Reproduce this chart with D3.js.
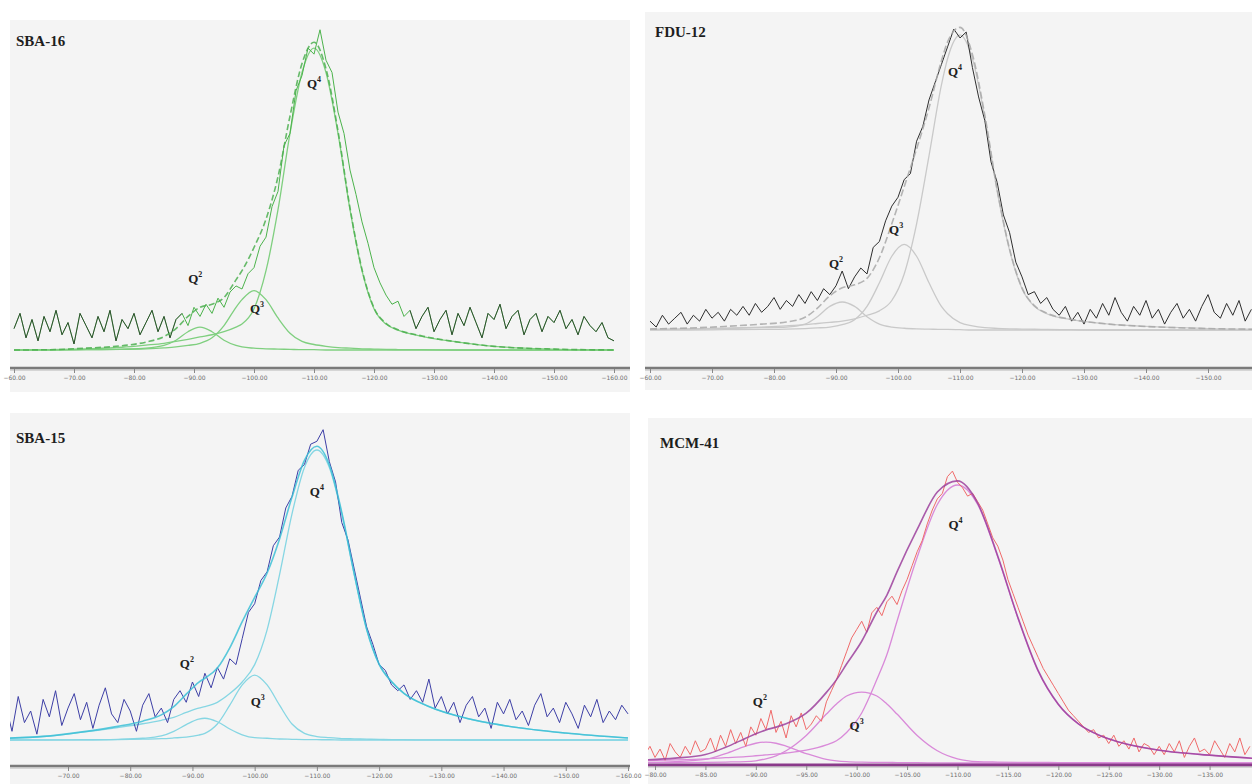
<!DOCTYPE html>
<html><head><meta charset="utf-8">
<script src="https://cdn.jsdelivr.net/npm/d3@7"></script>
<style>body{margin:0;background:#fff;} svg{display:block;}</style>
</head><body>
<svg id="c" width="1252" height="784"></svg>
<script>
// ---------------- DATA ----------------
// Experimental spectra (chemical shift in ppm, intensity relative to Q4 fit peak = 100)
const sba16Start = -60, sba16Step = -1;
const sba16Data = [7,12,4,10,3,11,6,13,5,9,2,12,8,4,11,6,13,3,10,7,12,5,9,13,6,11,4,10,
  12,8,14,11,15,12,17,14,19,21,20,25,27,
  34,37,47,52,67,71,85,90,99,97,
  105,95,91,78,71,59,51,42,35,27,22,18,15,16,11,
  13,7,11,14,6,10,13,5,12,8,14,9,4,12,10,15,7,11,13,5,10,12,6,11,9,13,7,10,5,11,8,6,9,4,3];

const fdu12Start = -60, fdu12Step = -1;
const fdu12Data = [3,1,5,2,4,6,2,5,3,7,4,6,3,7,5,8,
  5,9,6,8,11,7,10,8,12,9,13,10,14,12,
  15,20,14,18,21,19,28,30,37,42,
  45,51,53,64,69,78,84,90,96,102,99,
  101,89,79,71,57,50,39,33,23,18,12,13,9,11,7,
  5,8,3,6,2,7,4,9,5,11,6,3,8,5,10,4,7,2,6,9,4,7,3,8,12,6,4,9,5,10,3,7];

const sba15Start = -60, sba15Step = -1;
const sba15Data = [12,3,15,6,10,2,14,8,17,5,11,16,7,13,4,12,18,9,6,14,10,3,12,16,8,11,6,14,
  17,13,20,15,23,18,25,21,28,26,35,44,
  47,55,58,67,70,80,84,93,95,102,103,107,
  96,89,75,69,59,49,39,33,26,24,19,17,19,14,
  17,13,21,11,15,9,13,6,12,15,8,11,4,13,9,14,7,10,5,12,16,8,11,6,13,9,4,12,8,14,6,10,7,12,9];

const mcm41Start = -79, mcm41Step = -0.5;
const mcm41Data = [3,6,2,5,1,7,4,2,6,3,8,4,
  5,9,4,10,6,12,7,11,6,13,
  10,16,12,19,11,15,9,17,13,18,12,14,
  17,15,22,26,30,35,40,45,
  48,51,47,54,56,53,58,60,57,62,
  66,71,76,80,86,91,95,97,103,105,
  101,99,96,97,94,91,86,81,78,73,
  66,61,56,51,46,42,38,34,31,28,
  25,22,19,17,15,13,11,12,9,10,
  7,10,6,8,5,9,4,7,6,3,
  6,3,7,4,8,2,6,9,4,5,3,8,5,2,7,4,9,3,6];

// Deconvoluted components (sampled at fit grid)
const sba16FitPpm = [-60,-66,-72,-78,-82,-85,-87,-89,-91,-93,-95,-97,-98,-100,-102,-104,-106,-108,-110,-112,-114,-116,-118,-120,-122,-124,-128,-134,-140,-150,-160];
const sba16Q2 = [0,0,0.1,0.3,0.6,1.5,3.2,6,7.5,6,3.2,1.5,1.0,0.6,0.4,0.3,0.2,0.1,0.1,0,0,0,0,0,0,0,0,0,0,0,0];
const sba16Q3 = [0,0,0.1,0.2,0.4,0.7,1.0,1.5,2.2,4,8,14,16.5,19.5,16.5,10.5,5.5,2.8,1.8,1.2,0.8,0.6,0.4,0.3,0.2,0.15,0.1,0,0,0,0];
const sba16Q4 = [0,0.1,0.4,0.9,1.6,2.2,2.8,3.5,4.3,5.0,6.0,7.5,8.5,13.5,26,46,71,91,99,91,71,46,26,13.5,8.5,6.5,4.5,2.6,1.2,0.3,0];

const fdu12FitPpm = [-60,-66,-72,-78,-82,-85,-87,-89,-91,-93,-95,-97,-99,-101,-103,-105,-107,-108,-110,-112,-114,-116,-118,-120,-122,-124,-128,-134,-140,-150,-160];
const fdu12Q2 = [0.15,0.3,0.5,0.8,1.0,2,4.5,8,9.5,8,4.5,2,1.0,0.6,0.4,0.3,0.2,0.2,0.1,0,0,0,0,0,0,0,0,0,0,0,0];
const fdu12Q3 = [0,0,0.1,0.2,0.3,0.5,0.7,1.0,1.8,3.5,8,16,25,29,25,16,8,5.5,2.5,1.4,0.8,0.55,0.4,0.3,0.25,0.2,0.1,0,0,0,0];
const fdu12Q4 = [0.2,0.35,0.6,1.0,1.4,1.8,2.2,2.6,3.0,3.8,5,6.5,10,19,36,59,83,92,100,92,72,47,27,14,8,5.5,3.5,2,1.2,0.5,0.2];

const sba15FitPpm = [-60,-66,-72,-78,-82,-85,-87,-89,-91,-92,-94,-96,-98,-100,-102,-104,-106,-108,-110,-112,-114,-116,-118,-120,-122,-124,-128,-134,-140,-150,-160];
const sba15Q2 = [0,0.04,0.08,0.25,0.6,1.4,3.0,5.3,7.2,7.5,6.3,3.8,1.8,0.8,0.6,0.35,0.25,0.15,0.1,0.08,0,0,0,0,0,0,0,0,0,0,0];
const sba15Q3 = [0,0,0.05,0.15,0.3,0.45,0.7,1.0,1.7,2.3,5.5,12,19,22.4,19,12,5.5,2.3,1.2,0.8,0.5,0.4,0.3,0.2,0.15,0.1,0.05,0,0,0,0];
const sba15Q4 = [0.6,1.2,2.6,4.3,5.6,6.8,7.8,9.5,11,11.5,13,16,20,26,38,57,78,94,100,94,78,57,38,26,20,16,11.5,7.5,5,2.4,0.7];

const mcm41FitPpm = [-79,-82,-85,-87,-89,-90,-91,-92,-93,-95,-97,-98,-99,-100.5,-102,-103,-104,-106,-108,-110,-112,-114,-116,-118,-120,-122,-124,-126,-130,-134,-140];
const mcm41Q2 = [0.2,0.5,1.3,3.4,6.1,7.1,7.5,7.1,6.1,3.4,1.3,0.8,0.5,0.3,0.22,0.2,0.15,0.1,0.05,0,0,0,0,0,0,0,0,0,0,0,0];
const mcm41Q3 = [0.1,0.15,0.25,0.35,0.5,0.8,1.5,2.6,4.4,9.9,17.6,21.2,24.1,25.5,24.1,21.2,17.6,9.9,4.4,1.5,0.5,0.35,0.25,0.2,0.15,0.1,0.1,0.05,0,0,0];
const mcm41Q4 = [0.8,1.1,1.5,1.9,2.3,2.6,2.9,3.2,3.6,4.6,6.5,8,11,18,30,39,51,74,93,100,93,74,52,33,21,14,10,7.5,4.6,3.1,1.5];

// Axis tick values
const ticksSba16 = [-60,-70,-80,-90,-100,-110,-120,-130,-140,-150,-160];
const ticksFdu12 = [-60,-70,-80,-90,-100,-110,-120,-130,-140,-150];
const ticksSba15 = [-70,-80,-90,-100,-110,-120,-130,-140,-150,-160];
const ticksMcm41 = [-80,-85,-90,-95,-100,-105,-110,-115,-120,-125,-130,-135];

// Peak labels [label superscript, ppm, intensity]
const sba16Labels = [["4",-110,86],["2",-90.2,22],["3",-100.5,12]];
const fdu12Labels = [["4",-109.2,86],["3",-99.7,32.5],["2",-90,21]];
const sba15Labels = [["4",-110,84],["2",-89.1,25],["3",-100.5,11.7]];
const mcm41Labels = [["4",-109.8,84],["2",-90.4,20.5],["3",-100,11.9]];

// ---------------- LAYOUT ----------------
const panels = [
  {title:"SBA-16", box:[10,20,620,372], xd:[-60,-160], xr:[14,614], yr:[350,45], axisY:368,
   start:sba16Start, step:sba16Step, data:sba16Data, fitPpm:sba16FitPpm, comps:[sba16Q2,sba16Q3,sba16Q4],
   ticks:ticksSba16, labels:sba16Labels, titlePos:[16,46],
   dataColor:"#4cb34c", darkColor:"#1a1a1a", darkRanges:[[-59,-88],[-126,-161]], compColor:"#7fcf7f", sumColor:"#4caf50", sumDash:"6,3", axisColor:"#7a7a7a"},
  {title:"FDU-12", box:[645,12,607,378], xd:[-60,-160], xr:[650,1270], yr:[330,35], axisY:368,
   start:fdu12Start, step:fdu12Step, data:fdu12Data, fitPpm:fdu12FitPpm, comps:[fdu12Q2,fdu12Q3,fdu12Q4],
   ticks:ticksFdu12, labels:fdu12Labels, titlePos:[655,37],
   dataColor:"#2e2e2e", compColor:"#c9c9c9", sumColor:"#a8a8a8", sumDash:"7,3", axisColor:"#7a7a7a"},
  {title:"SBA-15", box:[10,413,620,371], xd:[-70,-160], xr:[68,628], yr:[740,450], axisY:766,
   start:sba15Start, step:sba15Step, data:sba15Data, fitPpm:sba15FitPpm, comps:[sba15Q2,sba15Q3,sba15Q4],
   ticks:ticksSba15, labels:sba15Labels, titlePos:[16,443],
   dataColor:"#3d3fa6", compColor:"#86d6e3", sumColor:"#3cc0d6", sumDash:null, axisColor:"#7a7a7a"},
  {title:"MCM-41", box:[648,418,604,366], xd:[-80,-140], xr:[655,1260], yr:[763,485], axisY:765,
   start:mcm41Start, step:mcm41Step, data:mcm41Data, fitPpm:mcm41FitPpm, comps:[mcm41Q2,mcm41Q3,mcm41Q4],
   ticks:ticksMcm41, labels:mcm41Labels, titlePos:[660,448],
   dataColor:"#f06a6a", compColor:"#d98ad9", sumColor:"#9c3f9c", sumDash:null, axisColor:"#8a3a8a"}
];

const svg = d3.select("#c");
svg.append("rect").attr("width",1252).attr("height",784).attr("fill","#fff");
const defs = svg.append("defs");
const fmt = d3.format(".2f");

panels.forEach((p,pi)=>{
  const [bx,by,bw,bh] = p.box;
  svg.append("rect").attr("x",bx).attr("y",by).attr("width",bw).attr("height",bh).attr("fill","#f4f4f4");
  defs.append("clipPath").attr("id","clip"+pi).append("rect")
    .attr("x",bx).attr("y",by).attr("width",bw).attr("height",p.axisY-by-1);
  const x = d3.scaleLinear().domain(p.xd).range(p.xr);
  const y = d3.scaleLinear().domain([0,100]).range(p.yr);
  const g = svg.append("g").attr("clip-path","url(#clip"+pi+")");

  const pts = p.data.map((v,i)=>({ppm:p.start+i*p.step, v}));
  const line = d3.line().x(d=>x(d.ppm)).y(d=>y(d.v));
  const smooth = d3.line().x(d=>x(d.ppm)).y(d=>y(d.v)).curve(d3.curveMonotoneX);

  // components
  p.comps.forEach(c=>{
    const cp = p.fitPpm.map((ppm,i)=>({ppm, v:c[i]}));
    g.append("path").attr("d",smooth(cp)).attr("fill","none")
      .attr("stroke",p.compColor).attr("stroke-width",1.3);
  });
  // experimental
  g.append("path").attr("d",line(pts)).attr("fill","none")
    .attr("stroke",p.dataColor).attr("stroke-width",1).attr("stroke-linejoin","round");
  if (p.darkRanges) {
    p.darkRanges.forEach(r=>{
      const seg = pts.filter(d=>d.ppm<=r[0] && d.ppm>=r[1]);
      g.append("path").attr("d",line(seg)).attr("fill","none")
        .attr("stroke",p.darkColor).attr("stroke-opacity",0.65).attr("stroke-width",1);
    });
  }
  // fitted envelope (sum of components)
  const sum = p.fitPpm.map((ppm,i)=>({ppm, v:d3.sum(p.comps,c=>c[i])}));
  const sp = g.append("path").attr("d",smooth(sum)).attr("fill","none")
    .attr("stroke",p.sumColor).attr("stroke-width",1.6).attr("stroke-opacity",0.85);
  if (p.sumDash) sp.attr("stroke-dasharray",p.sumDash);

  // axis
  svg.append("line").attr("x1",bx).attr("x2",bx+bw).attr("y1",p.axisY).attr("y2",p.axisY)
    .attr("stroke",p.axisColor).attr("stroke-width",pi===3?3:2.5);
  svg.append("line").attr("x1",bx).attr("x2",bx+bw).attr("y1",p.axisY+2).attr("y2",p.axisY+2)
    .attr("stroke","#b5b5b5").attr("stroke-width",1);
  const ax = svg.append("g").attr("transform",`translate(0,${p.axisY+1})`)
    .call(d3.axisBottom(x).tickValues(p.ticks).tickFormat(fmt).tickSize(4).tickPadding(3));
  ax.select(".domain").remove();
  ax.selectAll(".tick line").attr("stroke","#888");
  ax.selectAll(".tick text").attr("fill","#6e6e6e").attr("font-size",6)
    .attr("font-family","DejaVu Sans, sans-serif");

  // title
  svg.append("text").attr("x",p.titlePos[0]).attr("y",p.titlePos[1]).text(p.title)
    .attr("font-family","Liberation Serif, Times New Roman, serif").attr("font-weight","bold")
    .attr("font-size",15).attr("fill","#1e1e1e");

  // Q labels
  p.labels.forEach(l=>{
    const t = svg.append("text").attr("x",x(l[1])).attr("y",y(l[2]))
      .attr("text-anchor","middle")
      .attr("font-family","Liberation Serif, Times New Roman, serif").attr("font-weight","bold")
      .attr("font-size",13).attr("fill","#1e1e1e");
    t.append("tspan").text("Q");
    t.append("tspan").attr("dy",-6).attr("font-size",8).text(l[0]);
  });
});
</script>
</body></html>
